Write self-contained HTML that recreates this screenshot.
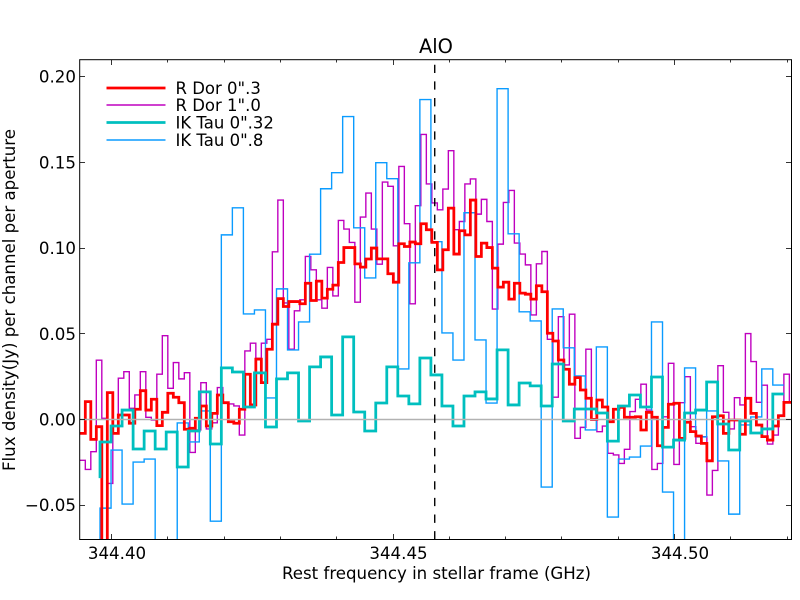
<!DOCTYPE html>
<html lang="en">
<head>
<meta charset="utf-8">
<title>AlO spectrum</title>
<style>
html,body{margin:0;padding:0;background:#fff;}
svg{display:block;}
text{font-family:"DejaVu Sans","Liberation Sans",sans-serif;fill:#000;}
</style>
</head>
<body>
<svg id="chart" xmlns="http://www.w3.org/2000/svg" width="800" height="600" viewBox="0 0 800 600">
  <rect x="0" y="0" width="800" height="600" fill="#fff"/>
  <defs><clipPath id="plot-clip"><rect x="79.5" y="59.5" width="712" height="480"/></clipPath></defs>
  <g id="series" clip-path="url(#plot-clip)"></g>
  <g id="axes"></g>
  <text x="436" y="53" font-size="19.4" text-anchor="middle">AlO</text>
  <text x="436.5" y="579" font-size="16.67" text-anchor="middle" textLength="309" lengthAdjust="spacingAndGlyphs">Rest frequency in stellar frame (GHz)</text>
  <text x="0" y="0" font-size="16.67" text-anchor="middle" textLength="342" lengthAdjust="spacingAndGlyphs" transform="translate(15 300) rotate(-90)">Flux density(Jy) per channel per aperture</text>
  <g>
    <g>
      <line x1="106.5" x2="165.5" y1="88" y2="88" stroke="#ff0000" stroke-width="2.78"/>
      <text x="175.5" y="94" font-size="16.5">R Dor 0".3</text>
    </g>
    <g>
      <line x1="106.5" x2="165.5" y1="105" y2="105" stroke="#bf00bf" stroke-width="1.39"/>
      <text x="175.5" y="111" font-size="16.5">R Dor 1".0</text>
    </g>
    <g>
      <line x1="106.5" x2="165.5" y1="122.5" y2="122.5" stroke="#00bfbf" stroke-width="2.78"/>
      <text x="175.5" y="128.5" font-size="16.5">IK Tau 0".32</text>
    </g>
    <g>
      <line x1="106.5" x2="165.5" y1="140" y2="140" stroke="#0a9bff" stroke-width="1.39"/>
      <text x="175.5" y="146" font-size="16.5">IK Tau 0".8</text>
    </g>
  </g>
</svg>
<script>
// Channel values in Jy.
const rDor03 = [-0.0081,0.0104,-0.0116,-0.0042,-0.085,0.0157,-0.0081,0.0026,0.0026,-0.0022,0.006,0.0168,0.0055,0.0118,-0.0036,0.0042,0.0153,0.013,0.0098,-0.0057,-0.0051,0.0007,0.0079,-0.0038,0.0036,0.0143,0.0098,-0.0013,-0.0022,0.006,0.0264,0.0085,0.0352,0.0215,0.041,0.0556,0.0705,0.0659,0.0688,0.0688,0.0675,0.0795,0.0694,0.0807,0.0708,0.076,0.0784,0.0916,0.1003,0.1003,0.0908,0.0889,0.0936,0.1,0.0937,0.0937,0.085,0.0801,0.1025,0.1009,0.1035,0.1025,0.1142,0.1107,0.1033,0.0873,0.099,0.1233,0.0965,0.1101,0.1077,0.128,0.0951,0.1029,0.1003,0.0883,0.0772,0.0801,0.0702,0.0795,0.0737,0.0731,0.0702,0.078,0.0745,0.0503,0.0458,0.0347,0.0293,0.0206,0.0244,0.0172,0.0124,0.0001,0.0114,0.0073,-0.0013,0.006,0.0071,0.0013,0.0013,0.0016,-0.0061,0.0042,0.0013,-0.0153,-0.0046,0.0089,0.0095,-0.011,-0.0016,-0.0071,-0.0096,-0.0139,-0.0241,0.0016,0.0022,-0.0081,-0.0003,-0.0003,-0.0086,0.0124,0.0036,-0.0032,-0.01,-0.012,-0.0038,0.0022,0.01,0.01];
const rDor10 = [-0.0238,-0.0291,-0.0188,0.0346,0.0007,-0.0373,-0.0081,0.0241,0.0279,0.0065,0.0143,0.0279,0.0013,-0.0003,0.0264,0.0489,0.0182,0.0332,0.0237,0.0273,-0.0192,-0.0061,0.0215,-0.0055,-0.0019,0.0186,0.0096,0.0091,0.0079,-0.0091,0.04,0.0445,0.0357,0.0445,0.0468,0.0978,0.128,0.068,0.041,0.0634,0.0698,0.0951,0.0873,0.0698,0.0649,0.0887,0.0721,0.1161,0.1111,0.1033,0.0684,0.1181,0.1321,0.1111,0.0906,0.1385,0.136,0.1013,0.1476,0.1142,0.0675,0.1247,0.1663,0.1374,0.1263,0.1223,0.1344,0.1568,0.1107,0.1155,0.1374,0.1403,0.1198,0.1284,0.1155,0.0644,0.1023,0.1266,0.1336,0.1029,0.0965,0.0902,0.061,0.0908,0.098,0.0468,0.013,0.06,0.0318,0.0614,-0.011,-0.0046,0.041,-0.0003,-0.0071,-0.0038,-0.0197,-0.0207,-0.0256,-0.0174,0.0046,0.0118,0.0206,0.0055,-0.0291,-0.0256,0.0016,0.0328,-0.0262,0.0098,0.025,-0.0042,-0.0139,-0.01,-0.0441,-0.0297,0.0314,0.0042,-0.0055,0.0127,0.0085,0.0501,0.0338,0.01,0.02,-0.0143,-0.0091,0.0026,0.0264,0.01];
const ikTau032 = [-0.0342,-0.0131,-0.0038,0.0055,-0.0172,-0.0067,-0.0172,-0.0073,-0.0277,-0.0067,0.0161,-0.0143,0.0301,0.0277,0.0073,0.0272,-0.0044,0.0237,0.0272,-0.0009,0.0307,0.0365,0.0026,0.0482,0.0044,-0.0067,0.0096,0.0307,0.0137,0.0091,0.0359,0.026,0.0079,-0.0038,0.0137,0.0161,0.012,0.0406,0.0085,0.0213,0.0196,0.0079,0.0324,-0.0009,0.0061,0.0061,0.0038,-0.0126,0.0079,0.0143,0.0073,0.0248,-0.0161,-0.012,0.0038,0.0055,0.0219,-0.0026,-0.0178,-0.0009,-0.0079,-0.0055,0.0149];
const ikTau08 = [-0.085,-0.0517,-0.0178,-0.0493,-0.0248,-0.0231,-0.085,-0.08,-0.002,-0.0131,0.005,-0.0593,0.1077,0.1235,0.0616,0.0639,0.0126,0.0762,0.0406,0.0569,0.0964,0.1346,0.144,0.1767,0.1118,0.0826,0.1498,0.1405,0.0295,0.0914,0.1866,0.1037,0.0505,0.0347,0.1206,0.0464,0.0096,0.193,0.1083,0.0628,0.0575,-0.0394,0.0645,0.0418,0.0254,-0.0061,0.0423,-0.0569,-0.0231,-0.0219,-0.0155,0.0569,-0.0423,-0.08,0.0301,-0.0102,0.005,-0.0242,-0.0552,-0.0032,0.0015,0.0295,0.0201];

const fineChannelStart = 344.39446;
const fineChannelWidth = 0.000977;
const coarseChannelStart = 344.39805;
const coarseChannelWidth = 0.001959;

const xMajorTicks = [344.40, 344.45, 344.50];
const xMajorLabels = ["344.40", "344.45", "344.50"];
const xMinorTicks = [344.41, 344.42, 344.43, 344.44, 344.46, 344.47, 344.48, 344.49, 344.51, 344.52];
const yTicks = [-0.05, 0, 0.05, 0.10, 0.15, 0.20];
const yLabels = ["\u22120.05", "0.00", "0.05", "0.10", "0.15", "0.20"];
const lineFrequency = 344.4575;

const SVGNS = "http://www.w3.org/2000/svg";
const xScale = f => 111 + (f - 344.40) * 5630;
const yScale = v => 539.5 - (v + 0.07) * 1714.3;

function stepPath(values, start, width) {
  let d = "M" + xScale(start).toFixed(2) + " " + yScale(values[0]).toFixed(2);
  for (let i = 1; i < values.length; i++) {
    d += "V" + yScale(values[i]).toFixed(2) + "H" + xScale(start + i * width).toFixed(2);
  }
  return d;
}

function make(tag, attrs, parent) {
  const el = document.createElementNS(SVGNS, tag);
  for (const key in attrs) el.setAttribute(key, attrs[key]);
  parent.appendChild(el);
  return el;
}

const seriesGroup = document.getElementById("series");
const axesGroup = document.getElementById("axes");

const magentaLine = make("path", {d: stepPath([rDor10[0]].concat(rDor10), fineChannelStart, fineChannelWidth), fill: "none", stroke: "#bf00bf", "stroke-width": 1.39, "stroke-linejoin": "miter"}, seriesGroup);



const blueLine = make("path", {d: stepPath(ikTau08, coarseChannelStart, coarseChannelWidth), fill: "none", stroke: "#0a9bff", "stroke-width": 1.39, "stroke-linejoin": "miter"}, seriesGroup);



const redLine = make("path", {d: stepPath([rDor03[0]].concat(rDor03), fineChannelStart, fineChannelWidth), fill: "none", stroke: "#ff0000", "stroke-width": 2.78, "stroke-linejoin": "miter"}, seriesGroup);



const cyanLine = make("path", {d: stepPath(ikTau032, coarseChannelStart, coarseChannelWidth), fill: "none", stroke: "#00bfbf", "stroke-width": 2.78, "stroke-linejoin": "miter"}, seriesGroup);



const zeroLine = make("line", {x1: 79.5, x2: 791.5, y1: yScale(0), y2: yScale(0), stroke: "#b2b2b2", "stroke-width": 1.39}, seriesGroup);



const restLine = make("line", {x1: xScale(lineFrequency), x2: xScale(lineFrequency), y1: 539.5, y2: 59.5, stroke: "#000", "stroke-width": 1.39, "stroke-dasharray": "8.33 8.33"}, seriesGroup);



xMajorTicks.forEach((t, i) => {
  const px = Math.round(xScale(t)) + 0.5;
  const bottomTick = make("line", {x1: px, x2: px, y1: 539.5, y2: 534, stroke: "#000", "stroke-width": 0.8}, axesGroup);
  
  
  const topTick = make("line", {x1: px, x2: px, y1: 59.5, y2: 65, stroke: "#000", "stroke-width": 0.8}, axesGroup);
  
  
  const label = make("text", {x: xScale(t) + 6, y: 559, "font-size": 16.67, "text-anchor": "middle"}, axesGroup);
  
  
  label.textContent = xMajorLabels[i];
});

xMinorTicks.forEach(t => {
  const px = Math.round(xScale(t)) + 0.5;
  const bottomMinor = make("line", {x1: px, x2: px, y1: 539.5, y2: 536.5, stroke: "#000", "stroke-width": 0.8}, axesGroup);
  
  
  const topMinor = make("line", {x1: px, x2: px, y1: 59.5, y2: 62.5, stroke: "#000", "stroke-width": 0.8}, axesGroup);
  
  
});

yTicks.forEach((t, i) => {
  const py = Math.floor(yScale(t)) + 0.5;
  const leftTick = make("line", {x1: 79.5, x2: 85, y1: py, y2: py, stroke: "#000", "stroke-width": 0.8}, axesGroup);
  
  
  const rightTick = make("line", {x1: 791.5, x2: 786, y1: py, y2: py, stroke: "#000", "stroke-width": 0.8}, axesGroup);
  
  
  const label = make("text", {x: 76, y: yScale(t) + 6, "font-size": 16.67, "text-anchor": "end"}, axesGroup);
  
  
  label.textContent = yLabels[i];
});

const frame = make("rect", {x: 79.7, y: 59.7, width: 711.8, height: 479.8, fill: "none", stroke: "#000", "stroke-width": 1}, axesGroup);


</script>
</body>
</html>
